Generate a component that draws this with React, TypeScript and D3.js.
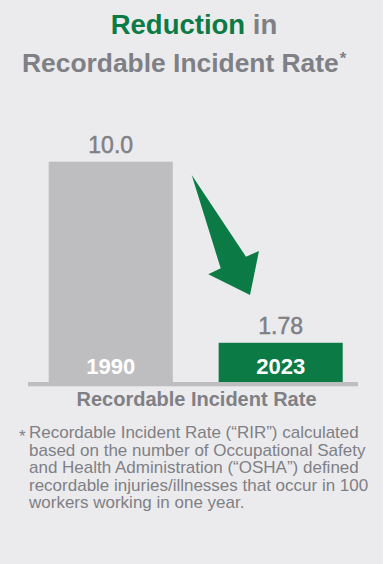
import React from "react";
import * as d3 from "d3";

const years = ["1990", "2023"];
const rates = [10.0, 1.78];
const valueLabels = ["10.0", "1.78"];
const titleLine1 = ["Reduction", " in"];
const titleLine2 = "Recordable Incident Rate";
const axisTitle = "Recordable Incident Rate";
const footnoteLines = [
  "Recordable Incident Rate (“RIR”) calculated",
  "based on the number of Occupational Safety",
  "and Health Administration (“OSHA”) defined",
  "recordable injuries/illnesses that occur in 100",
  "workers working in one year.",
];

const W = 386;
const H = 564;
const GREEN = "#0b7a45";
const GRAY_TEXT = "#7f8085";
const BAR_GRAY = "#bebec0";
const BG = "#ebebed";
const FONT = "'Liberation Sans', Arial, Helvetica, sans-serif";

export default function App() {
  const baseline = 382;
  const x = d3
    .scaleBand<string>()
    .domain(years)
    .range([30, 358])
    .paddingInner(0.27)
    .paddingOuter(0.1)
    .align(0.55);
  const y = d3.scaleLinear().domain([0, 10]).range([baseline, 161.7]);
  const colors = [BAR_GRAY, GREEN];

  const arrowPts: [number, number][] = [
    [191.7, 175],
    [220.7, 268.3],
    [208.3, 274.3],
    [250, 295],
    [259, 251],
    [246, 256.7],
  ];
  const arrowPath = d3.line()(arrowPts) + "Z";

  return (
    <svg
      width={W}
      height={H}
      style={{ position: "absolute", left: 0, top: 0, display: "block" }}
    >
      <rect x={0} y={0} width={W} height={H} fill="#ffffff" />
      <rect x={0} y={0} width={383} height={H} fill={BG} />
      <text
        x={194}
        y={34}
        textAnchor="middle"
        fontFamily={FONT}
        fontWeight="bold"
        fontSize={27.5}
      >
        <tspan fill={GREEN}>{titleLine1[0]}</tspan>
        <tspan fill={GRAY_TEXT}>{titleLine1[1]}</tspan>
      </text>
      <text
        x={22}
        y={72}
        fontFamily={FONT}
        fontWeight="bold"
        fontSize={26.4}
        fill={GRAY_TEXT}
      >
        {titleLine2}
        <tspan fontSize={17} dx={1} dy={-8}>*</tspan>
      </text>

      {years.map((yr, i) => {
        const x0 = x(yr)!;
        const bw = x.bandwidth();
        const top = y(rates[i]);
        return (
          <g key={yr}>
            <rect
              x={x0}
              y={top}
              width={bw}
              height={baseline - top}
              fill={colors[i]}
            />
            <text
              x={x0 + bw / 2}
              y={top - 8.5}
              textAnchor="middle"
              fontFamily={FONT}
              fontSize={23}
              fill={GRAY_TEXT}
              stroke={GRAY_TEXT}
              strokeWidth={0.5}
            >
              {valueLabels[i]}
            </text>
            <text
              x={x0 + bw / 2}
              y={374}
              textAnchor="middle"
              fontFamily={FONT}
              fontWeight="bold"
              fontSize={22}
              fill="#ffffff"
            >
              {yr}
            </text>
          </g>
        );
      })}

      <rect x={28} y={baseline} width={330} height={4.3} fill={BAR_GRAY} />

      <path d={arrowPath} fill={GREEN} />

      <text
        x={196.5}
        y={406}
        textAnchor="middle"
        fontFamily={FONT}
        fontWeight="bold"
        fontSize={20}
        fill={GRAY_TEXT}
      >
        {axisTitle}
      </text>

      <text x={19} y={442} fontFamily={FONT} fontSize={17} fill={GRAY_TEXT}>
        *
      </text>
      {footnoteLines.map((line, i) => (
        <text
          key={i}
          x={29}
          y={438 + i * 17.5}
          fontFamily={FONT}
          fontSize={17}
          fill={GRAY_TEXT}
        >
          {line}
        </text>
      ))}
    </svg>
  );
}
